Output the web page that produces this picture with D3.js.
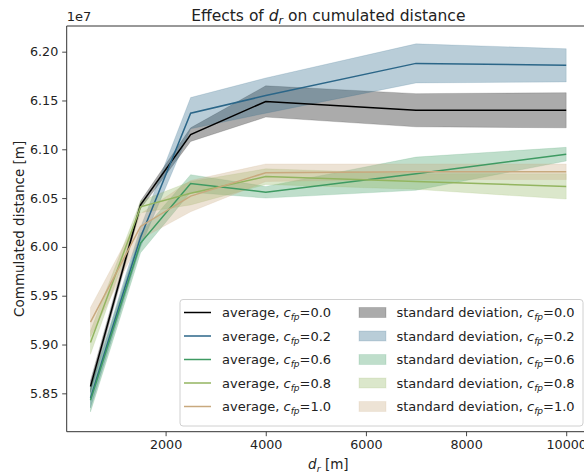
<!DOCTYPE html>
<html><head><meta charset="utf-8">
<script src="https://cdn.jsdelivr.net/npm/d3@7"></script>
<style>body{margin:0;background:#fff;}svg{display:block;font-family:"DejaVu Sans",sans-serif;}</style>
</head><body>
<svg id="chart" width="584" height="476"></svg>
<script>
// ---- data (values in metres) ----
const drValues = [500, 1500, 2500, 4000, 7000, 10000];
const cfpLabels = ["0.0", "0.2", "0.6", "0.8", "1.0"];
const mean00 = [5.857e7, 6.043e7, 6.115e7, 6.149e7, 6.140e7, 6.140e7];
const std00  = [0.006e7, 0.004e7, 0.007e7, 0.016e7, 0.017e7, 0.018e7];
const mean02 = [5.845e7, 6.010e7, 6.137e7, 6.155e7, 6.188e7, 6.186e7];
const std02  = [0.010e7, 0.010e7, 0.016e7, 0.018e7, 0.020e7, 0.017e7];
const mean06 = [5.843e7, 6.004e7, 6.065e7, 6.056e7, 6.075e7, 6.095e7];
const std06  = [0.012e7, 0.010e7, 0.009e7, 0.006e7, 0.017e7, 0.007e7];
const mean08 = [5.902e7, 6.041e7, 6.055e7, 6.072e7, 6.067e7, 6.062e7];
const std08  = [0.012e7, 0.006e7, 0.012e7, 0.008e7, 0.008e7, 0.013e7];
const mean10 = [5.923e7, 6.021e7, 6.052e7, 6.076e7, 6.077e7, 6.077e7];
const std10  = [0.015e7, 0.013e7, 0.016e7, 0.009e7, 0.008e7, 0.008e7];
const xTicks = [2000, 4000, 6000, 8000, 10000];
const yTicks = [5.85e7, 5.90e7, 5.95e7, 6.00e7, 6.05e7, 6.10e7, 6.15e7, 6.20e7];
const colors = ["#000000", "#2b6688", "#3e9a62", "#93b560", "#c8a97e"];

const means = [mean00, mean02, mean06, mean08, mean10];
const stds = [std00, std02, std06, std08, std10];

const svg = d3.select("#chart");
const L = 66.7, R = 590, T = 26, B = 431.7;
const x = d3.scaleLinear().domain([25, 10475]).range([L, R]);
const y = d3.scaleLinear().domain([5.8107e7, 6.2263e7]).range([B, T]);

const defs = svg.append("defs");
defs.append("clipPath").attr("id", "clip").append("rect")
  .attr("x", L).attr("y", T).attr("width", R - L).attr("height", B - T);

const plot = svg.append("g").attr("clip-path", "url(#clip)");
const area = d3.area().x(d => x(d.x)).y0(d => y(d.m - d.s)).y1(d => y(d.m + d.s));
const line = d3.line().x(d => x(d.x)).y(d => y(d.m));

means.forEach((m, i) => {
  const pts = drValues.map((dx, j) => ({x: dx, m: m[j], s: stds[i][j]}));
  plot.append("path").datum(pts).attr("d", area)
    .attr("fill", colors[i]).attr("fill-opacity", 0.33).attr("stroke", colors[i]).attr("stroke-opacity", 0.15).attr("stroke-width", 1);
});
means.forEach((m, i) => {
  const pts = drValues.map((dx, j) => ({x: dx, m: m[j]}));
  plot.append("path").datum(pts).attr("d", line)
    .attr("fill", "none").attr("stroke", colors[i]).attr("stroke-width", 1.5);
});

// axes
const xAxis = svg.append("g").attr("transform", `translate(0,${B})`)
  .call(d3.axisBottom(x).tickValues(xTicks).tickFormat(d3.format("d")).tickSize(4.5).tickPadding(4));
const yAxis = svg.append("g").attr("transform", `translate(${L},0)`)
  .call(d3.axisLeft(y).tickValues(yTicks).tickFormat(d => (d / 1e7).toFixed(2)).tickSize(4.5).tickPadding(4));
[xAxis, yAxis].forEach(a => {
  a.select(".domain").remove();
  a.selectAll("text").attr("font-size", 12.7).attr("fill", "#222").attr("font-family", "DejaVu Sans");
  a.selectAll("line").attr("stroke", "#333").attr("stroke-width", 0.9);
});
// spines
svg.append("line").attr("x1", L).attr("x2", L).attr("y1", T).attr("y2", B).attr("stroke", "#333");
svg.append("line").attr("x1", L).attr("x2", R).attr("y1", B).attr("y2", B).attr("stroke", "#333");
svg.append("line").attr("x1", L).attr("x2", R).attr("y1", T).attr("y2", T).attr("stroke", "#333");
svg.append("line").attr("x1", R).attr("x2", R).attr("y1", T).attr("y2", B).attr("stroke", "#333");

// offset text
svg.append("text").attr("x", L).attr("y", 21).attr("font-size", 13).attr("fill", "#222").text("1e7");

// title
const title = svg.append("text").attr("x", (L + R) / 2).attr("y", 21).attr("text-anchor", "middle")
  .attr("font-size", 15.5).attr("fill", "#222");
title.append("tspan").text("Effects of ");
title.append("tspan").attr("font-style", "italic").text("d");
title.append("tspan").attr("font-style", "italic").attr("font-size", 11).attr("dy", 3).text("r");
title.append("tspan").attr("dy", -3).text(" on cumulated distance");

// x label
const xl = svg.append("text").attr("x", (L + R) / 2).attr("y", 469).attr("text-anchor", "middle")
  .attr("font-size", 13.5).attr("fill", "#222");
xl.append("tspan").attr("font-style", "italic").text("d");
xl.append("tspan").attr("font-style", "italic").attr("font-size", 9.5).attr("dy", 3).text("r");
xl.append("tspan").attr("dy", -3).text(" [m]");

// y label
svg.append("text").attr("transform", `translate(24,${(T + B) / 2}) rotate(-90)`)
  .attr("text-anchor", "middle").attr("font-size", 13.5).attr("fill", "#222").text("Commulated distance [m]");

// legend
const lg = svg.append("g");
lg.append("rect").attr("x", 180).attr("y", 299.5).attr("width", 403).attr("height", 126.5).attr("rx", 3)
  .attr("fill", "#fff").attr("fill-opacity", 0.85).attr("stroke", "#d0d0d0").attr("stroke-width", 1);
function label(g, xx, yy, prefix, val) {
  const t = g.append("text").attr("x", xx).attr("y", yy).attr("font-size", 13).attr("fill", "#222");
  t.append("tspan").text(prefix);
  t.append("tspan").attr("font-style", "italic").text("c");
  t.append("tspan").attr("font-style", "italic").attr("font-size", 9).attr("dy", 3).text("fp");
  t.append("tspan").attr("dy", -3).text("=" + val);
}
cfpLabels.forEach((c, i) => {
  const cy = 312.5 + i * 23.5;
  lg.append("line").attr("x1", 184).attr("x2", 211).attr("y1", cy).attr("y2", cy)
    .attr("stroke", colors[i]).attr("stroke-width", 1.5);
  label(lg, 222, cy + 4.5, "average, ", c);
  lg.append("rect").attr("x", 359).attr("y", cy - 5).attr("width", 27).attr("height", 10)
    .attr("fill", colors[i]).attr("fill-opacity", 0.33).attr("stroke", colors[i]).attr("stroke-opacity", 0.15);
  label(lg, 396.5, cy + 4.5, "standard deviation, ", c);
});
</script>
</body></html>
